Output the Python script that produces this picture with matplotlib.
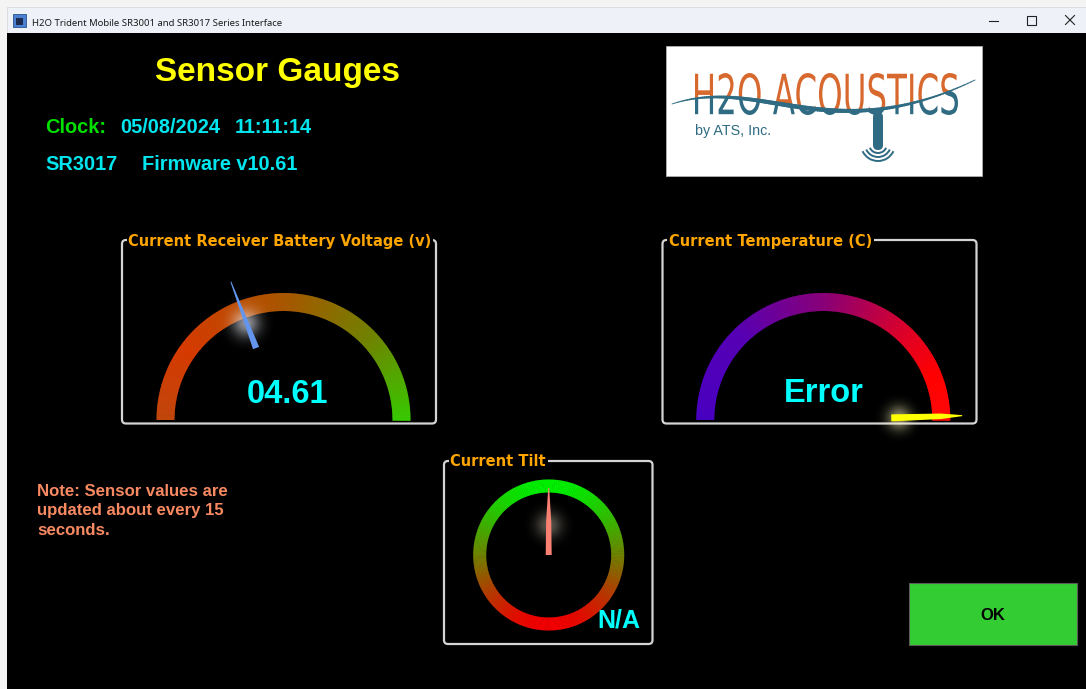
import numpy as np
import matplotlib.pyplot as plt
from matplotlib.patches import Rectangle, Wedge, Polygon, FancyBboxPatch, PathPatch, Arc
from matplotlib.colors import LinearSegmentedColormap, to_rgb
from matplotlib.textpath import TextPath
from matplotlib.font_manager import FontProperties
from matplotlib.transforms import Affine2D
from matplotlib.collections import LineCollection

W, H = 1086, 689

# values shown on the screen
window_title = "H2O Trident Mobile SR3001 and SR3017 Series Interface"
clock_date = "05/08/2024"
clock_time = "11:11:14"
receiver_model = "SR3017"
firmware = "Firmware v10.61"
note_lines = ["Note: Sensor values are", "updated about every 15", "seconds."]

battery_voltage = 4.61
battery_range = [0, 12]
temp_reading = "Error"
temp_needle_frac = 0.99   # needle parked at the end of the scale
tilt_deg = 0.0
tilt_reading = "N/A"

gauge_titles = ["Current Receiver Battery Voltage (v)", "Current Temperature (C)", "Current Tilt"]
battery_colors = [(0, "#c0460c"), (0.2, "#d63a00"), (0.5, "#a85600"), (0.75, "#728000"), (1, "#38c800")]
temp_colors = [(0, "#4800c0"), (0.25, "#5600b4"), (0.5, "#880078"), (0.75, "#e00025"),
               (0.88, "#ff0000"), (1, "#ff0808")]
tilt_colors = [(0, "#00ee00"), (0.5, "#6e8200"), (1, "#f00000")]

BOLD = dict(family="Liberation Sans", fontweight="bold")
LABEL = dict(family="DejaVu Sans", fontweight="bold", fontsize=10.5, color="#ffa500")


def gradient_arc(ax, cx, cy, r, width, cmap, t0=180, t1=360, n=180, vertical=False):
    th = np.linspace(t0, t1, n + 1)
    for a, b in zip(th[:-1], th[1:]):
        mid = (a + b) / 2
        if vertical:
            c = cmap((np.sin(np.radians(mid)) + 1) / 2)
        else:
            c = cmap((mid - t0) / (t1 - t0))
        ax.add_patch(Wedge((cx, cy), r, a, b + 0.4, width=width, facecolor=c,
                           edgecolor="none", zorder=3))


def needle(ax, cx, cy, theta, r0, r1, w0, w1, color, shoulder=0.0):
    t = np.radians(theta)
    d = np.array([np.cos(t), np.sin(t)])
    nrm = np.array([-d[1], d[0]])
    c = np.array([cx, cy])
    p0, p1 = c + d * r0, c + d * r1
    ps = c + d * (r0 + shoulder * (r1 - r0))
    ws = w0 - (w0 - w1) * shoulder * 0.35
    pts = [p0 + nrm * w0 / 2, ps + nrm * ws / 2, p1 + nrm * w1 / 2,
           p1 - nrm * w1 / 2, ps - nrm * ws / 2, p0 - nrm * w0 / 2]
    ax.add_patch(Polygon(pts, closed=True, facecolor=color, edgecolor="none", zorder=6))


def glow(ax, cx, cy, theta, r, radius, color, peak):
    t = np.radians(theta)
    x, y = cx + r * np.cos(t), cy + r * np.sin(t)
    g = np.linspace(-1, 1, 81)
    xx, yy = np.meshgrid(g, g)
    img = np.zeros((81, 81, 4))
    img[..., :3] = to_rgb(color)
    img[..., 3] = peak * np.exp(-(xx ** 2 + yy ** 2) / (2 * 0.33 ** 2))
    ax.imshow(img, extent=(x - radius, x + radius, y + radius, y - radius),
              interpolation="bilinear", zorder=5, aspect="auto")


def frame(ax, x0, y0, x1, y1, title, label_y):
    ax.add_patch(FancyBboxPatch((x0, y0), x1 - x0, y1 - y0,
                                boxstyle="round,pad=0,rounding_size=4",
                                facecolor="none", edgecolor="#d4d4d4", lw=1.6, zorder=2))
    ax.text(x0 + 6.5, label_y, title, ha="left", va="baseline", zorder=3,
            bbox=dict(facecolor="black", edgecolor="none", pad=1.2), **LABEL)


fig = plt.figure(figsize=(W / 100, H / 100), dpi=100)
fig.patch.set_facecolor("#f4f4f4")
ax = fig.add_axes([0, 0, 1, 1])

# window chrome
ax.add_patch(Rectangle((7, 7), W - 7, 26, facecolor="#eef2f8", edgecolor="#d6d9de", lw=0.6, zorder=1))
ax.add_patch(Rectangle((7, 33), W - 7, H - 33, facecolor="black", edgecolor="none", zorder=1))
ax.add_patch(Rectangle((13, 14), 13, 13, facecolor="#4b7fd0", edgecolor="#2a4f90", lw=0.6, zorder=2))
ax.add_patch(Rectangle((16, 18), 7, 7, facecolor="#1c2a50", edgecolor="none", zorder=3))
ax.text(31.5, 25.5, window_title, family="Noto Sans", fontsize=6.85, color="#1a1a1a",
        ha="left", va="baseline")
ax.plot([989, 998], [20.5, 20.5], color="#222222", lw=0.8)
ax.add_patch(Rectangle((1027, 16), 8.5, 8.5, facecolor="none", edgecolor="#222222", lw=0.8))
ax.plot([1065.5, 1074.5], [15.5, 24.5], color="#222222", lw=0.8)
ax.plot([1065.5, 1074.5], [24.5, 15.5], color="#222222", lw=0.8)

# header text
ax.text(277.5, 81, "Sensor Gauges", color="#ffff00", fontsize=24, ha="center", va="baseline", **BOLD)
ax.text(45.5, 133, "Clock:", color="#00e000", fontsize=14.4, ha="left", va="baseline", **BOLD)
ax.text(120, 133, clock_date, color="#00e5ee", fontsize=14.4, ha="left", va="baseline", **BOLD)
ax.text(235, 133, clock_time, color="#00e5ee", fontsize=14.4, ha="left", va="baseline", **BOLD)
ax.text(45.5, 170, receiver_model, color="#00e5ee", fontsize=14.4, ha="left", va="baseline", **BOLD)
ax.text(142, 170, firmware, color="#00e5ee", fontsize=14.4, ha="left", va="baseline", **BOLD)

# logo
ax.add_patch(Rectangle((666, 46), 315.5, 130, facecolor="white", edgecolor="#bbbbbb", lw=0.5, zorder=2))
teal, rust = "#2f6b82", "#d8692e"
ctrl = np.array([[672, 104], [760, 75], [830, 150], [975, 80]])
t = np.linspace(0, 1, 120)[:, None]
wave = ((1 - t) ** 3 * ctrl[0] + 3 * (1 - t) ** 2 * t * ctrl[1]
        + 3 * (1 - t) * t ** 2 * ctrl[2] + t ** 3 * ctrl[3])
tp = TextPath((0, 0), "H2O ACOUSTICS", size=1, prop=FontProperties(family="DejaVu Sans"))
bb = tp.get_extents()
sx = (958 - 695) / bb.width
sy = 42 / bb.height
tr = Affine2D().translate(-bb.x0, -bb.y0).scale(sx, -sy).translate(695, 115)
above = Polygon(np.vstack([wave, [[975, 40], [672, 40]]]), closed=True, transform=ax.transData)
below = Polygon(np.vstack([wave, [[975, 180], [672, 180]]]), closed=True, transform=ax.transData)
for col, clip in [(rust, above), (teal, below)]:
    pp = PathPatch(tr.transform_path(tp), facecolor=col, edgecolor="none", zorder=3)
    ax.add_patch(pp)
    pp.set_clip_path(clip)
segs = np.stack([wave[:-1], wave[1:]], axis=1)
widths = 0.6 + 2.6 * np.sin(np.pi * t[:-1, 0])
ax.add_collection(LineCollection(segs, linewidths=widths, colors=teal, capstyle="round", zorder=4))
ax.add_patch(FancyBboxPatch((873, 112), 10, 38, boxstyle="round,pad=0,rounding_size=5",
                            facecolor=teal, edgecolor="none", zorder=4))
for r in [9, 13, 17]:
    ax.add_patch(Arc((878, 144), 2 * r, 2 * r, theta1=25, theta2=155, color=teal, lw=1.4, zorder=4))
ax.text(695, 135, "by ATS, Inc.", family="Liberation Sans", fontsize=10.3, color=teal,
        ha="left", va="baseline", zorder=4)

# battery gauge
frame(ax, 122, 240, 436, 423.5, gauge_titles[0], 245.7)
bcx, bcy = 283.5, 420
gradient_arc(ax, bcx, bcy, 127, 18, LinearSegmentedColormap.from_list("bat", battery_colors))
b_theta = 180 + 180 * (battery_voltage - battery_range[0]) / (battery_range[1] - battery_range[0])
glow(ax, bcx, bcy, b_theta, 104, 30, "#f0f4ff", 0.6)
needle(ax, bcx, bcy, b_theta, 77, 148, 6.5, 1.0, "#6495ed")
ax.text(287, 402.7, f"{battery_voltage:05.2f}", color="#00ffff", fontsize=23.5,
        ha="center", va="baseline", zorder=7, **BOLD)

# temperature gauge
frame(ax, 662.5, 240, 976.5, 423.5, gauge_titles[1], 245.7)
tcx, tcy = 823.3, 420
gradient_arc(ax, tcx, tcy, 127, 18, LinearSegmentedColormap.from_list("tmp", temp_colors))
t_theta = 180 + 180 * temp_needle_frac
glow(ax, tcx, tcy, t_theta, 76, 26, "#fff7c0", 0.55)
needle(ax, tcx, tcy, t_theta, 68, 139, 7.0, 1.0, "#ffff00", shoulder=0.7)
ax.text(823.8, 402.5, temp_reading, color="#00ffff", fontsize=23.5,
        ha="center", va="baseline", zorder=7, **BOLD)

# tilt gauge
frame(ax, 444, 461, 652.5, 644, gauge_titles[2], 466)
ccx, ccy = 548.7, 555
gradient_arc(ax, ccx, ccy, 75.5, 13, LinearSegmentedColormap.from_list("tilt", tilt_colors),
             t0=0, t1=360, n=240, vertical=True)
c_theta = 270 + tilt_deg
glow(ax, ccx, ccy, c_theta, 30, 28, "#fff2d8", 0.35)
needle(ax, ccx, ccy, c_theta, 0, 67, 6.0, 1.0, "#fa8072", shoulder=0.5)
ax.text(618.7, 627.3, tilt_reading, color="#00ffff", fontsize=18, ha="center",
        va="baseline", zorder=7, **BOLD)

# note + OK button
for i, line in enumerate(note_lines):
    ax.text(37.3, 496 + 19.3 * i, line, color="#f88a62", fontsize=12.1, ha="left",
            va="baseline", **BOLD)
ax.add_patch(Rectangle((908.5, 582.5), 168, 62.5, facecolor="#33cc33", edgecolor="#5a5a5a",
                       lw=0.8, zorder=2))
ax.text(993, 620, "OK", color="black", fontsize=12, ha="center", va="baseline", zorder=3, **BOLD)

ax.set_xlim(0, W)
ax.set_ylim(H, 0)
ax.axis("off")
fig.savefig("out.png", dpi=100, facecolor=fig.get_facecolor())
